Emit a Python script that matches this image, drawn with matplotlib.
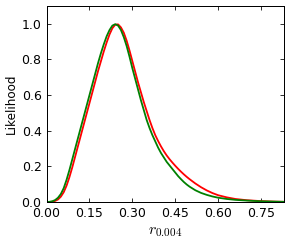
import matplotlib
matplotlib.use("Agg")
import matplotlib.pyplot as plt
from matplotlib.ticker import FormatStrFormatter

plt.rcParams['mathtext.fontset'] = 'cm'
plt.rcParams['font.family'] = ['DejaVu Sans']

x_green = [0.00, 0.01, 0.02, 0.03, 0.04, 0.05, 0.06, 0.07, 0.08, 0.09, 0.10, 0.11, 0.12,
           0.13, 0.14, 0.15, 0.16, 0.17, 0.18, 0.19, 0.20, 0.21, 0.22, 0.23, 0.24, 0.25,
           0.26, 0.27, 0.28, 0.29, 0.30, 0.31, 0.32, 0.33, 0.34, 0.35, 0.36, 0.37, 0.38,
           0.39, 0.40, 0.41, 0.42, 0.43, 0.44, 0.45, 0.46, 0.47, 0.48, 0.49, 0.50, 0.52,
           0.54, 0.56, 0.58, 0.60, 0.63, 0.66, 0.70, 0.75, 0.80, 0.83]
y_green = [0.000, 0.001, 0.004, 0.011, 0.024, 0.045, 0.078, 0.125, 0.18, 0.24, 0.30, 0.36, 0.42,
           0.48, 0.54, 0.60, 0.66, 0.72, 0.78, 0.835, 0.885, 0.93, 0.965, 0.99, 0.998, 0.99,
           0.965, 0.925, 0.875, 0.815, 0.75, 0.69, 0.63, 0.57, 0.515, 0.46, 0.415, 0.375, 0.34,
           0.305, 0.275, 0.25, 0.225, 0.205, 0.185, 0.165, 0.145, 0.128, 0.112, 0.098, 0.086, 0.066,
           0.051, 0.040, 0.031, 0.024, 0.017, 0.012, 0.008, 0.004, 0.002, 0.001]

x_red = [0.00, 0.01, 0.02, 0.03, 0.04, 0.05, 0.06, 0.07, 0.08, 0.09, 0.10, 0.11, 0.12,
         0.13, 0.14, 0.15, 0.16, 0.17, 0.18, 0.19, 0.20, 0.21, 0.22, 0.23, 0.24, 0.25,
         0.26, 0.27, 0.28, 0.29, 0.30, 0.31, 0.32, 0.33, 0.34, 0.35, 0.36, 0.37, 0.38,
         0.39, 0.40, 0.41, 0.42, 0.43, 0.44, 0.45, 0.46, 0.47, 0.48, 0.49, 0.50, 0.52,
         0.54, 0.56, 0.58, 0.60, 0.63, 0.66, 0.70, 0.75, 0.80, 0.83]
y_red = [0.000, 0.0003, 0.002, 0.006, 0.014, 0.030, 0.055, 0.092, 0.14, 0.195, 0.255, 0.315, 0.375,
         0.435, 0.495, 0.555, 0.615, 0.675, 0.735, 0.79, 0.845, 0.895, 0.94, 0.975, 0.995, 0.997,
         0.98, 0.95, 0.905, 0.85, 0.79, 0.73, 0.67, 0.615, 0.56, 0.51, 0.46, 0.415, 0.375,
         0.342, 0.312, 0.285, 0.261, 0.240, 0.221, 0.203, 0.186, 0.170, 0.155, 0.141, 0.128, 0.104,
         0.083, 0.065, 0.050, 0.038, 0.026, 0.017, 0.010, 0.005, 0.002, 0.001]

xticks = [0.00, 0.15, 0.30, 0.45, 0.60, 0.75]
yticks = [0.0, 0.2, 0.4, 0.6, 0.8, 1.0]

fig = plt.figure(figsize=(291/72, 250/72), dpi=72)
ax = fig.add_axes([0.160, 0.192, 0.816, 0.784])
ax.plot(x_red, y_red, color=(1, 0, 0), lw=1.8, solid_joinstyle='round')
ax.plot(x_green, y_green, color=(0, 0.5, 0), lw=1.8, solid_joinstyle='round')
ax.set_xlim(0, 0.83)
ax.set_ylim(0, 1.1)
ax.set_xticks(xticks)
ax.set_yticks(yticks)
ax.xaxis.set_major_formatter(FormatStrFormatter('%.2f'))
ax.yaxis.set_major_formatter(FormatStrFormatter('%.1f'))
ax.tick_params(direction='in', top=True, right=True, length=4, labelsize=12.5, pad=5)
for s in ax.spines.values():
    s.set_linewidth(1.0)
ax.set_ylabel('Likelihood', fontsize=12)
ax.set_xlabel(r'$r_{0.004}$', fontsize=16)
fig.savefig('out.png', dpi=72)
